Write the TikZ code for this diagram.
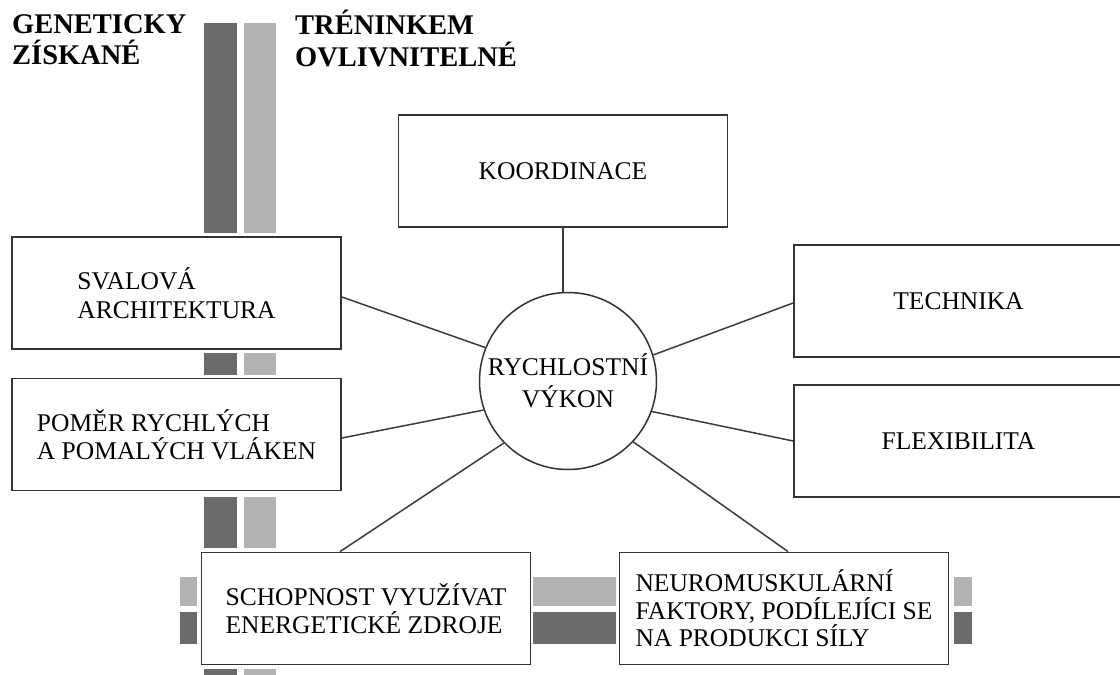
\documentclass[tikz,border=0pt]{standalone}
\usepackage{fontspec}
\setmainfont{Liberation Serif}
\definecolor{darkbar}{HTML}{6B6B6B}
\definecolor{lightbar}{HTML}{B2B2B2}
\definecolor{boxc}{HTML}{333333}
\definecolor{linec}{HTML}{3C3C3C}
\begin{document}
\begin{tikzpicture}[x=1pt,y=-1pt,
  box/.style={draw=boxc, line width=1.8pt, fill=white, rectangle,
    minimum width=329pt, minimum height=112pt, inner sep=0pt, align=left,
    font=\fontsize{25.5}{28.5}\selectfont},
  circ/.style={draw=boxc, line width=1.5pt, fill=white, circle,
    minimum size=177pt, inner sep=0pt, align=center,
    font=\fontsize{25.5}{32}\selectfont},
  conn/.style={draw=linec, line width=1.5pt},
  head/.style={inner sep=0pt, align=left, anchor=north west,
    font=\bfseries\fontsize{28.5}{31.5}\selectfont},
  dbar/.style={fill=darkbar},
  lbar/.style={fill=lightbar}]
\useasboundingbox (0,0) rectangle (1120,675);
\clip (0,0) rectangle (1120,675);
\fill[white] (0,0) rectangle (1120,675);

% vertical bars
\fill[dbar] (204,23) rectangle (237,233);
\fill[lbar] (244,23) rectangle (276,233);
\fill[dbar] (204,353) rectangle (237,375);
\fill[lbar] (244,353) rectangle (276,375);
\fill[dbar] (204,497) rectangle (237,548);
\fill[lbar] (244,497) rectangle (276,548);
\fill[dbar] (204,669) rectangle (237,680);
\fill[lbar] (244,669) rectangle (276,680);
% horizontal bars
\fill[lbar] (180,577) rectangle (197,606);
\fill[dbar] (180,612) rectangle (197,644);
\fill[lbar] (533,577) rectangle (616,606);
\fill[dbar] (533,612) rectangle (616,644);
\fill[lbar] (954,577) rectangle (972,606);
\fill[dbar] (954,612) rectangle (972,644);

% headers
\node[head] (gen) at (12,14) {GENETICKY\\ZÍSKANÉ};
\node[head] (tren) at (295,10) {TRÉNINKEM\\OVLIVNITELNÉ};

% boxes
\node[box] (koord) at (563,171) {KOORDINACE};
\node[box] (sval) at (176.5,293) {SVALOVÁ\\ARCHITEKTURA};
\node[box] (pomer) at (176.5,434.5) {POMĚR RYCHLÝCH\\A POMALÝCH VLÁKEN};
\node[box] (schop) at (366,608.5) {SCHOPNOST VYUŽÍVAT\\ENERGETICKÉ ZDROJE};
\node[box, font=\fontsize{25.5}{27.5}\selectfont] (neuro) at (784,608.5) {NEUROMUSKULÁRNÍ\\FAKTORY, PODÍLEJÍCI SE\\NA PRODUKCI SÍLY};
\node[box] (tech) at (958.5,301) {TECHNIKA};
\node[box] (flex) at (958.5,441) {FLEXIBILITA};
\node[circ] (vykon) at (568,381) {RYCHLOSTNÍ\\VÝKON};

% connectors
\draw[conn] (koord.south) -- (koord.south |- vykon.north);
\draw[conn] ([yshift=-4pt]sval.east) -- (vykon.158);
\draw[conn] ([yshift=-3.5pt]pomer.east) -- (vykon.199);
\draw[conn] ([xshift=-26pt]schop.north) -- (vykon.224);
\draw[conn] ([xshift=4pt]neuro.north) -- (vykon.317);
\draw[conn] ([yshift=-2pt]tech.west) -- (vykon.17);
\draw[conn] (flex.west) -- (vykon.340);
\end{tikzpicture}
\end{document}
